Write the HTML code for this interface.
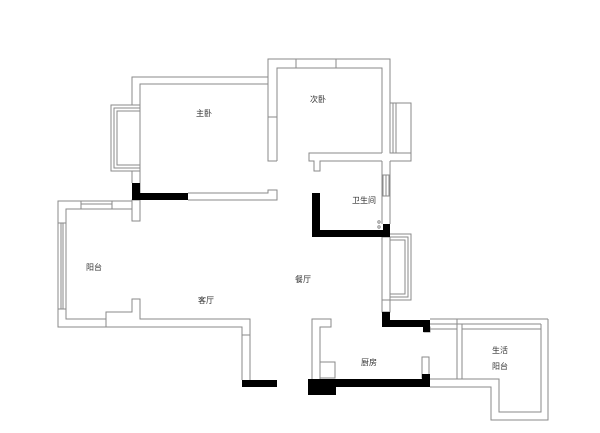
<!DOCTYPE html>
<html><head><meta charset="utf-8"><style>
html,body{margin:0;padding:0;background:#fff;width:600px;height:433px;overflow:hidden}
svg{display:block}
text{font-family:"Liberation Sans","Noto Sans CJK SC",sans-serif;font-size:8px;fill:#333}
</style></head><body>
<svg width="600" height="433" viewBox="0 0 600 433" xmlns="http://www.w3.org/2000/svg">
<g fill="none" stroke="#8a8a8a" stroke-width="1">
<!-- master bedroom -->
<polyline points="132,105 132,77 268,77"/>
<polyline points="140,105 140,84 268,84"/>
<polyline points="132,171 132,183"/>
<polyline points="140,171 140,193"/>
<rect x="111" y="105" width="29" height="66"/>
<rect x="114" y="108" width="26" height="60"/>
<rect x="117" y="111" width="23" height="54"/>
<polyline points="188,193 268,193 268,190 277,190 277,200 188,200"/>
<!-- second bedroom -->
<polyline points="268,77 268,59 390,59 390,103"/>
<polyline points="277,161 277,68 382,68 382,153"/>
<polyline points="268,77 268,161 277,161"/>
<line x1="268" y1="117" x2="277" y2="117"/>
<line x1="296" y1="59" x2="296" y2="68"/>
<line x1="336" y1="59" x2="336" y2="68"/>
<rect x="390" y="103" width="21" height="50"/>
<line x1="393" y1="103" x2="393" y2="153"/>
<line x1="396" y1="103" x2="396" y2="153"/>
<polyline points="382,153 309,153 309,161 314,161 314,171 320,171 320,161 382,161"/>
<polyline points="390,153 411,153 411,161 390,161"/>
<!-- bathroom right wall -->
<line x1="382" y1="161" x2="382" y2="224"/>
<line x1="390" y1="161" x2="390" y2="224"/>
<rect x="383" y="175" width="6" height="21"/>
<line x1="386" y1="175" x2="386" y2="196"/>
<circle cx="379" cy="222" r="1.2"/><circle cx="379" cy="227" r="1.2"/>
<!-- living right window -->
<rect x="382" y="237" width="8" height="63"/>
<polyline points="390,234 411,234 411,300 390,300"/>
<polyline points="390,237 408,237 408,297 390,297"/>
<polyline points="390,240 405,240 405,294 390,294"/>
<rect x="382" y="300" width="8" height="12"/>
<!-- balcony left -->
<polyline points="132,201 58,201 58,327 106,327"/>
<polyline points="132,209 66,209 66,319 106,319"/>
<rect x="81" y="201" width="31" height="8"/>
<line x1="81" y1="204" x2="112" y2="204"/>
<rect x="58" y="223" width="8" height="86"/>
<line x1="61" y1="223" x2="61" y2="309"/>
<line x1="63" y1="223" x2="63" y2="309"/>
<polyline points="106,327 106,312 132,312 132,299 140,299 140,319 250,319 250,380"/>
<polyline points="106,327 242,327 242,380"/>
<line x1="242" y1="335" x2="250" y2="335"/>
<rect x="132" y="200" width="8" height="21"/>
<!-- kitchen -->
<polyline points="312,379 312,319 331,319 331,327 320,327 320,379"/>
<rect x="320" y="362" width="15" height="16"/>
<rect x="422" y="357" width="7" height="21"/>
<!-- utility balcony -->
<line x1="430" y1="319" x2="548" y2="319"/>
<line x1="430" y1="324" x2="541" y2="324"/>
<line x1="430" y1="329" x2="457" y2="329"/>
<line x1="462" y1="329" x2="541" y2="329"/>
<polyline points="548,319 548,420 491,420 491,387 430,387"/>
<polyline points="541,324 541,412 499,412 499,379 430,379"/>
<line x1="457" y1="319" x2="457" y2="379"/>
<line x1="462" y1="324" x2="462" y2="379"/>
<rect x="424" y="327" width="6" height="5"/>
</g>
<g fill="#000">
<rect x="132" y="183" width="8" height="17"/>
<rect x="132" y="193" width="56" height="7"/>
<rect x="312" y="193" width="8" height="44"/>
<rect x="312" y="230" width="78" height="7"/>
<rect x="383" y="224" width="7" height="13"/>
<rect x="382" y="312" width="8" height="15"/>
<rect x="382" y="320" width="48" height="7"/>
<rect x="423" y="320" width="7" height="12"/>
<rect x="242" y="380" width="35" height="7"/>
<rect x="308" y="379" width="122" height="8"/>
<rect x="308" y="379" width="28" height="16"/>
<rect x="422" y="374" width="8" height="6"/>
</g>
<text x="196" y="116">主卧</text>
<text x="310" y="102">次卧</text>
<text x="352" y="203">卫生间</text>
<text x="86" y="270">阳台</text>
<text x="198" y="303">客厅</text>
<text x="295" y="282">餐厅</text>
<text x="361" y="365">厨房</text>
<text x="492" y="353">生活</text>
<text x="492" y="369">阳台</text>
</svg>
</body></html>
